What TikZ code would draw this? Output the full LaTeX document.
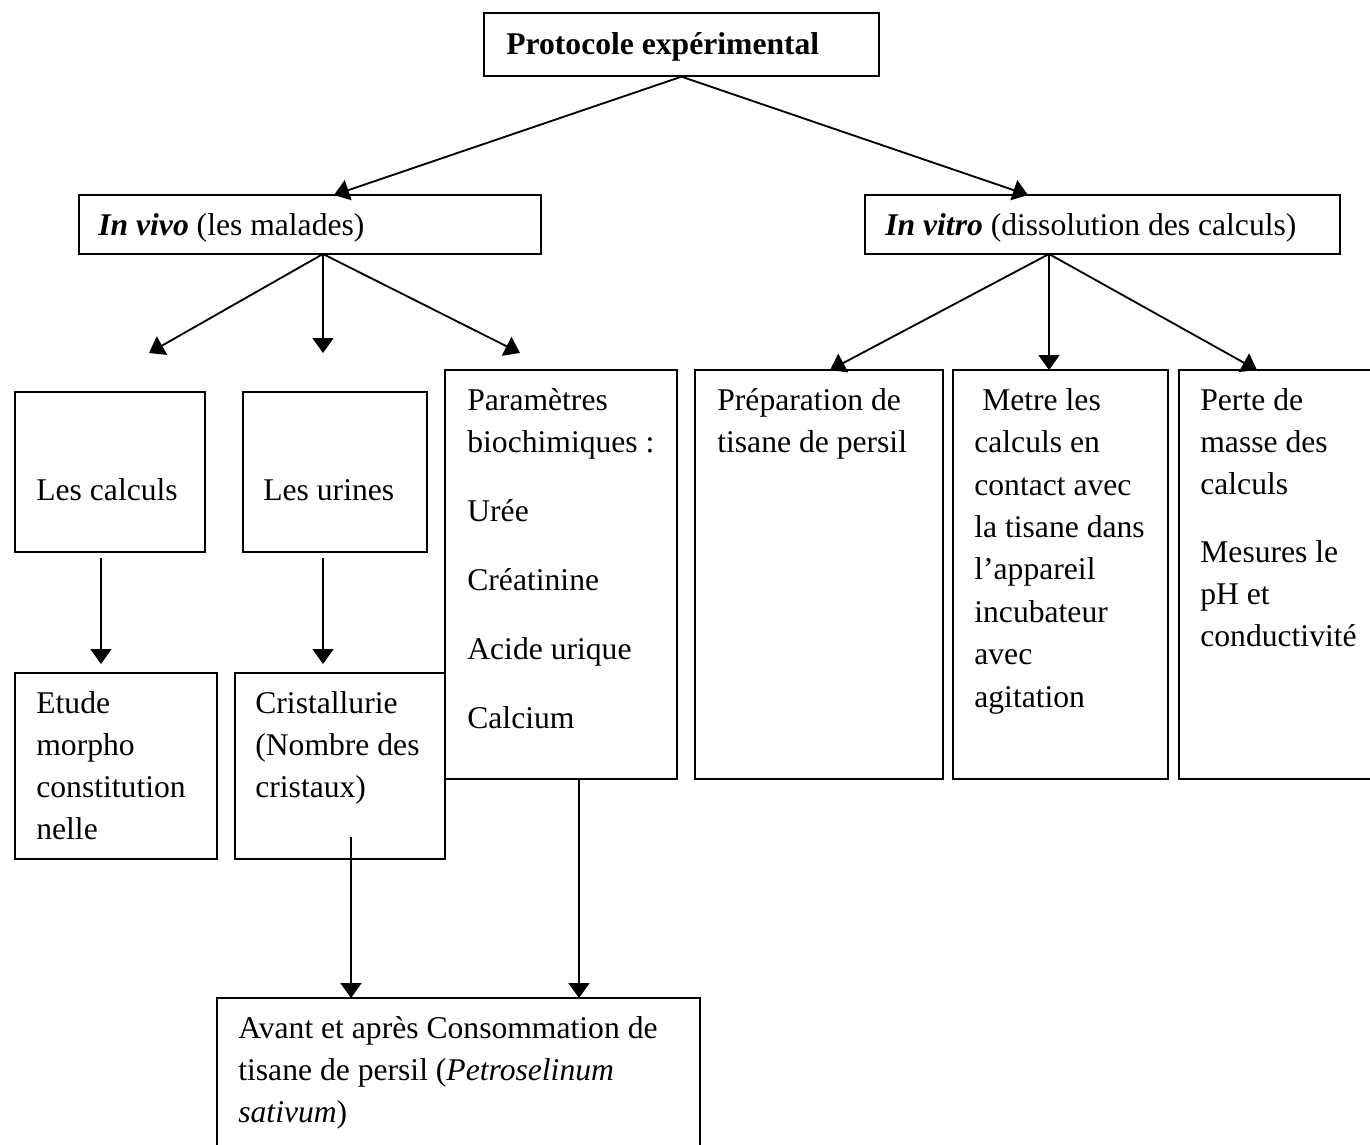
\documentclass[tikz,border=0pt]{standalone}
\usepackage{fontspec}
\setmainfont{Liberation Serif}
\usetikzlibrary{arrows.meta,fit}

\begin{document}
\begin{tikzpicture}[x=0.02cm,y=-0.02cm,
  box/.style={draw, line width=0.75pt, inner sep=0pt},
  txt/.style={anchor=north west, inner sep=0pt, align=left,
    font=\fontsize{18}{23.9}\selectfont},
  arr/.style={line width=1.05pt, -{Triangle[length=0.3cm,width=0.42cm]}}]
  \useasboundingbox (0,0) rectangle (1370,1144);

  % Draw the boxes
  \node[box, fit={(484,13)(879,76)}] (proto) {};
  \node[box, fit={(79,195)(541,254)}] (invivo) {};
  \node[box, fit={(865,195)(1340,254)}] (invitro) {};
  \node[box, fit={(15,392)(205,552)}] (calc) {};
  \node[box, fit={(243,392)(427,552)}] (urines) {};
  \node[box, fit={(445,370)(677,779)}] (param) {};
  \node[box, fit={(695,370)(943,779)}] (prep) {};
  \node[box, fit={(953,370)(1168,779)}] (metre) {};
  \node[box, fit={(1179,370)(1390,779)}] (perte) {};
  \node[box, fit={(15,673)(217,859)}] (etude) {};
  \node[box, fit={(235,673)(445,859)}] (crist) {};
  \node[box, fit={(217,998)(700,1160)}] (avant) {};

  % Texts in the boxes (a strut on the first line fixes the top)
  \node[txt] (protoT) at (506,24.5) {\strut\textbf{Protocole expérimental}};
  \node[txt] (invivoT) at (98,205.6) {\strut\textbf{\textit{In vivo}} (les malades)};
  \node[txt] (invitroT) at (885,205.6) {\strut\textbf{\textit{In vitro}} (dissolution des calculs)};
  \node[txt] (calcT) at (36,471) {\strut Les calculs};
  \node[txt] (urinesT) at (263,471) {\strut Les urines};
  \node[txt] (paramT) at (467,380.6) {\strut Paramètres\\biochimiques :\\[15.4pt]Urée\\[15.4pt]Créatinine\\[15.4pt]Acide urique\\[15.4pt]Calcium};
  \node[txt] (prepT) at (717,380.6) {\strut Préparation de\\tisane de persil};
  \node[txt, font=\fontsize{18}{24.1}\selectfont] (metreT) at (974,380.6) {\strut\ Metre les\\calculs en\\contact avec\\la tisane dans\\l’appareil\\incubateur\\avec\\agitation};
  \node[txt] (perteT) at (1200,380.6) {\strut Perte de\\masse des\\calculs\\[14.8pt]Mesures le\\pH et\\conductivité};
  \node[txt] (etudeT) at (36,683.6) {\strut Etude\\morpho\\constitution\\nelle};
  \node[txt] (cristT) at (255,683.6) {\strut Cristallurie\\(Nombre des\\cristaux)};
  \node[txt] (avantT) at (238,1009) {\strut Avant et après Consommation de\\tisane de persil (\textit{Petroselinum}\\\textit{sativum})};

  % Arrows from the top box
  \coordinate (vivoIn) at (334,195);
  \coordinate (vitroIn) at (1028,195);
  \draw[arr] (proto.south) -- (vivoIn);
  \draw[arr] (proto.south) -- (vitroIn);

  % Fans below the two branches
  \coordinate (vivoOut) at (323,254);
  \coordinate (vitroOut) at (1049,254);
  \foreach \x/\n in {149/a,323/b,520/c} {
    \coordinate (vivo\n) at (\x,353);
    \draw[arr] (vivoOut) -- (vivo\n);
  }
  \foreach \x/\n in {830/a,1049/b,1257/c} {
    \coordinate (vitro\n) at (\x,370);
    \draw[arr] (vitroOut) -- (vitro\n);
  }

  % Vertical arrows
  \coordinate (calcA) at (101,558);
  \coordinate (calcB) at (101,664);
  \coordinate (urinesA) at (323,558);
  \coordinate (urinesB) at (323,664);
  \coordinate (cristA) at (351,837);
  \coordinate (cristB) at (351,998);
  \coordinate (paramA) at (579,779);
  \coordinate (paramB) at (579,998);
  \draw[arr] (calcA) -- (calcB);
  \draw[arr] (urinesA) -- (urinesB);
  \draw[arr] (cristA) -- (cristB);
  \draw[arr] (paramA) -- (paramB);

\end{tikzpicture}
\end{document}
